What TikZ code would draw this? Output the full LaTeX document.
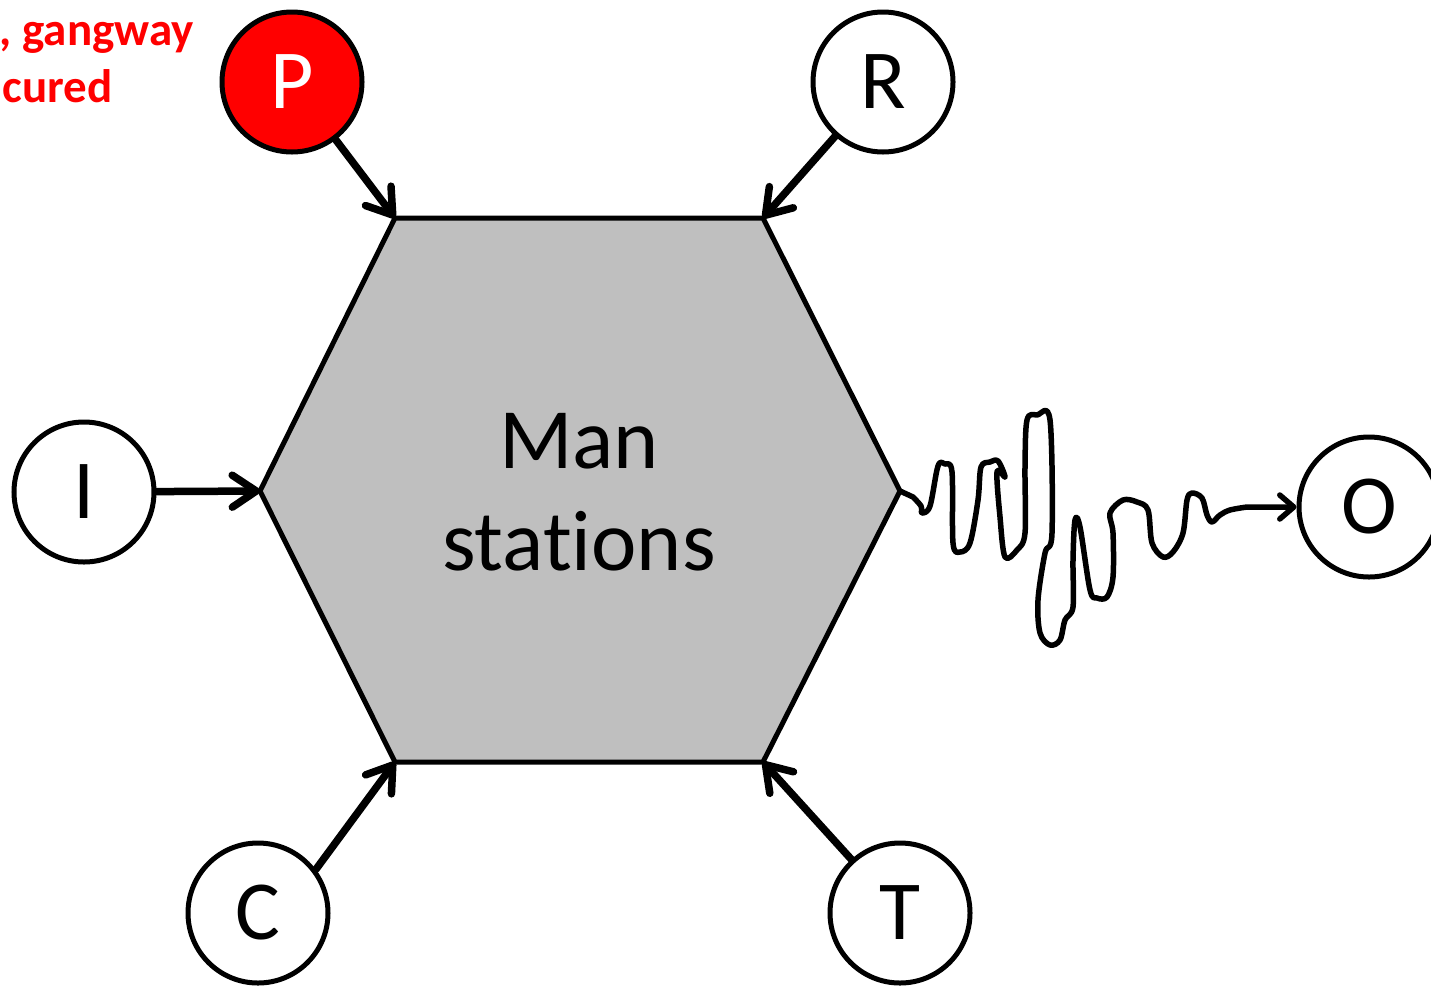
\documentclass[tikz,border=0pt]{standalone}
\usepackage{fontspec}
\setmainfont{Carlito}[Ligatures=NoCommon]
\usetikzlibrary{arrows.meta}
\definecolor{hexgray}{HTML}{BFBFBF}
\definecolor{alertred}{HTML}{FF0000}
\begin{document}
\begin{tikzpicture}[x=1pt,y=-1pt,
  station/.style={circle,draw=black,line width=5pt,minimum size=140pt,inner sep=0pt,
    fill=white,font=\fontsize{84}{90}\selectfont},
  feed/.style={line width=7.5pt,line cap=round,
    -{Straight Barb[length=24pt,width=32pt,line cap=round,line join=round]}},
  wave/.style={line width=5.5pt,line cap=round,line join=round,
    -{Straight Barb[length=14pt,width=24pt,line cap=round,line join=round]}},
  note/.style={text=alertred,font=\bfseries\fontsize{47}{52}\selectfont,inner sep=0pt},
]
\useasboundingbox (0,0) rectangle (1431,986);
\clip (0,0) rectangle (1431,986);

% central hexagon
\coordinate (hL)  at (260,491);
\coordinate (hTL) at (395,218);
\coordinate (hTR) at (763,218);
\coordinate (hR)  at (900,491);
\coordinate (hBR) at (763,762);
\coordinate (hBL) at (395,762);
\draw[line width=5pt,fill=hexgray,line join=miter]
  (hL) -- (hTL) -- (hTR) -- (hR) -- (hBR) -- (hBL) -- cycle;
\node[align=center,font=\fontsize{86}{102}\selectfont] (hub) at (579,492) {Man\\stations};

% surrounding stations
\node[station,fill=alertred,text=white] (P) at (292,82) {P};
\node[station] (R) at (883,82) {R};
\node[station] (I) at (84,492) {I};
\node[station] (O) at (1369,507) {O};
\node[station] (C) at (258,913) {C};
\node[station] (T) at (900,913) {T};

% note beside P
\node[note,anchor=base east] (n1) at (194,45) {, gangway};
\node[note,anchor=base east] (n2) at (113,102) {cured};

% inputs into the hexagon
\draw[feed] (P) -- (hTL);
\draw[feed] (R) -- (hTR);
\draw[feed] (I) -- (hL);
\draw[feed] (C.37) -- (hBL);
\draw[feed] (T) -- (hBR);

% erratic output line
\draw[wave] (hR) -- plot[smooth,tension=0.55] coordinates {
  (913,497) (921,506) (922,513) (930,506) (938,466) (945,464) (952,472)
  (953,543) (960,552) (970,543) (978,500) (981,467) (990,462) (998,461)
  (1005,477) (997,472) (1000,517) (1005,557) (1017,550) (1025,533)
  (1025,467) (1027,420) (1037,415) (1050,420) (1052,533) (1045,553)
  (1038,600) (1040,633) (1050,645) (1060,640) (1065,620) (1073,607)
  (1073,560) (1075,520) (1080,527) (1090,590) (1097,598) (1107,597)
  (1113,577) (1113,533) (1110,513) (1123,500) (1137,502) (1148,510)
  (1152,543) (1163,557) (1173,552) (1183,533) (1187,500) (1192,493)
  (1202,498) (1207,515) (1212,522) (1220,515) (1230,510) (1247,507)
} -- (O);
\end{tikzpicture}
\end{document}
